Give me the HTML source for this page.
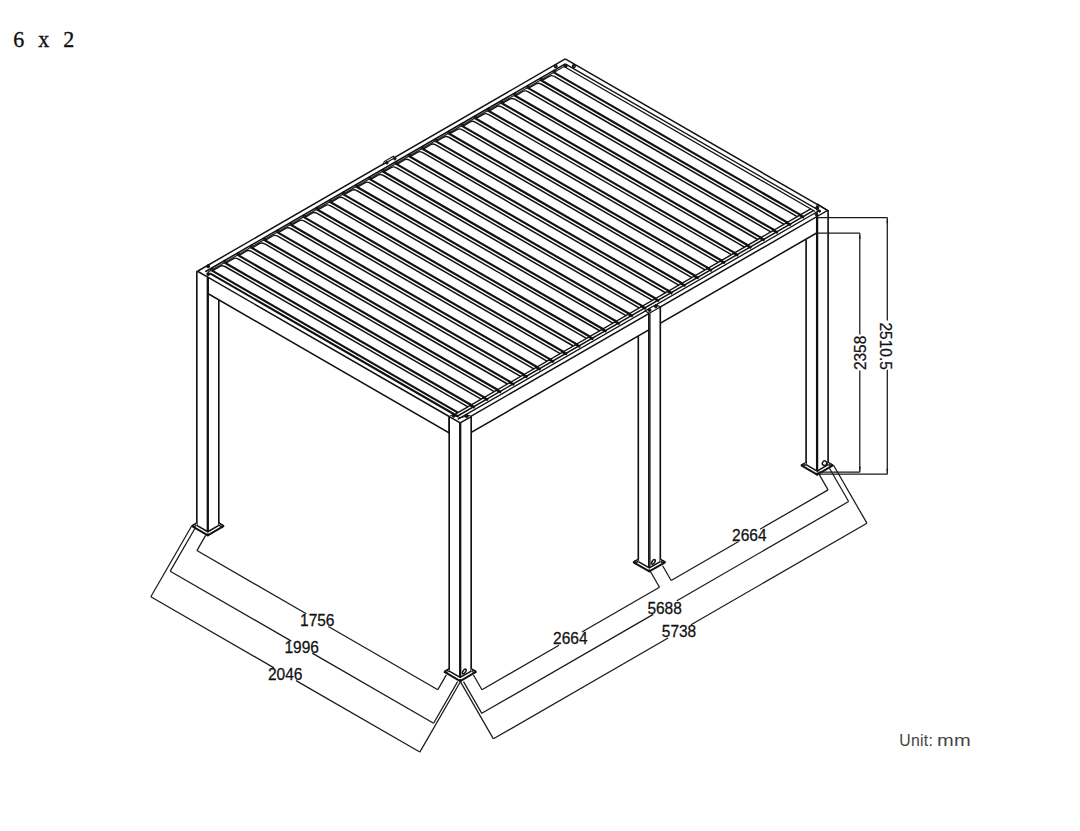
<!DOCTYPE html>
<html lang="en">
<head>
<meta charset="utf-8">
<title>6 x 2</title>
<style>
html,body{margin:0;padding:0;background:#fff;}
body{width:1080px;height:831px;position:relative;overflow:hidden;font-family:"Liberation Sans",sans-serif;}
svg{position:absolute;left:0;top:0;display:block;}
svg text{font-family:"Liberation Sans",sans-serif;fill:#111;stroke:#111;stroke-width:0.25px;}
.title{position:absolute;left:13.2px;top:25.3px;-webkit-text-stroke:0.35px #111;font-family:"Liberation Serif",serif;font-size:22px;line-height:30px;color:#111;word-spacing:8.5px;white-space:nowrap;transform:scaleY(1.045);transform-origin:0 21.9px;}
.unit{position:absolute;left:899.3px;top:731.1px;font-family:"Liberation Sans",sans-serif;font-size:15.8px;line-height:20px;color:#444;letter-spacing:0.25px;white-space:nowrap;}
.unit span{display:inline-block;transform:scaleX(1.27);transform-origin:0 50%;letter-spacing:0.2px;margin-left:-0.6px;}
</style>
</head>
<body>
<svg width="1080" height="831" viewBox="0 0 1080 831">
<rect x="0" y="0" width="1080" height="831" fill="#ffffff"/>
<polygon points="197.54,271.25 565.25,58.95 827.57,210.40 459.86,422.70" fill="#fff" stroke="none" stroke-width="0" stroke-linejoin="miter"/>
<line x1="552.87" y1="71.90" x2="800.47" y2="214.85" stroke="#111" stroke-width="2.2" stroke-linecap="butt"/>
<line x1="554.26" y1="76.40" x2="797.26" y2="216.70" stroke="#111" stroke-width="1.5" stroke-linecap="butt"/>
<path d="M554.43,76.50 Q551.48,75.00 549.67,76.05 L541.69,80.66" fill="none" stroke="#111" stroke-width="1.4"/>
<line x1="553.48" y1="70.45" x2="556.07" y2="71.95" stroke="#111" stroke-width="2.0" stroke-linecap="butt"/>
<line x1="798.74" y1="214.45" x2="804.10" y2="217.55" stroke="#111" stroke-width="2.6" stroke-linecap="butt"/>
<line x1="539.70" y1="79.51" x2="787.30" y2="222.45" stroke="#111" stroke-width="2.2" stroke-linecap="butt"/>
<line x1="541.08" y1="84.01" x2="784.09" y2="224.31" stroke="#111" stroke-width="1.5" stroke-linecap="butt"/>
<path d="M541.26,84.11 Q538.31,82.61 536.49,83.66 L528.52,88.26" fill="none" stroke="#111" stroke-width="1.4"/>
<line x1="540.30" y1="78.05" x2="542.90" y2="79.55" stroke="#111" stroke-width="2.0" stroke-linecap="butt"/>
<line x1="785.56" y1="222.06" x2="790.93" y2="225.15" stroke="#111" stroke-width="2.6" stroke-linecap="butt"/>
<line x1="526.53" y1="87.11" x2="774.12" y2="230.06" stroke="#111" stroke-width="2.2" stroke-linecap="butt"/>
<line x1="527.91" y1="91.61" x2="770.92" y2="231.91" stroke="#111" stroke-width="1.5" stroke-linecap="butt"/>
<path d="M528.08,91.71 Q525.14,90.21 523.32,91.26 L515.35,95.87" fill="none" stroke="#111" stroke-width="1.4"/>
<line x1="527.13" y1="85.66" x2="529.73" y2="87.16" stroke="#111" stroke-width="2.0" stroke-linecap="butt"/>
<line x1="772.39" y1="229.66" x2="777.76" y2="232.76" stroke="#111" stroke-width="2.6" stroke-linecap="butt"/>
<line x1="513.35" y1="94.72" x2="760.95" y2="237.66" stroke="#111" stroke-width="2.2" stroke-linecap="butt"/>
<line x1="514.74" y1="99.22" x2="757.75" y2="239.51" stroke="#111" stroke-width="1.5" stroke-linecap="butt"/>
<path d="M514.91,99.31 Q511.97,97.82 510.15,98.87 L502.17,103.47" fill="none" stroke="#111" stroke-width="1.4"/>
<line x1="513.96" y1="93.26" x2="516.56" y2="94.76" stroke="#111" stroke-width="2.0" stroke-linecap="butt"/>
<line x1="759.22" y1="237.26" x2="764.59" y2="240.36" stroke="#111" stroke-width="2.6" stroke-linecap="butt"/>
<line x1="500.18" y1="102.32" x2="747.78" y2="245.27" stroke="#111" stroke-width="2.2" stroke-linecap="butt"/>
<line x1="501.57" y1="106.82" x2="744.57" y2="247.12" stroke="#111" stroke-width="1.5" stroke-linecap="butt"/>
<path d="M501.74,106.92 Q498.80,105.42 496.98,106.47 L489.00,111.08" fill="none" stroke="#111" stroke-width="1.4"/>
<line x1="500.79" y1="100.87" x2="503.39" y2="102.37" stroke="#111" stroke-width="2.0" stroke-linecap="butt"/>
<line x1="746.05" y1="244.87" x2="751.42" y2="247.97" stroke="#111" stroke-width="2.6" stroke-linecap="butt"/>
<line x1="487.01" y1="109.93" x2="734.61" y2="252.88" stroke="#111" stroke-width="2.2" stroke-linecap="butt"/>
<line x1="488.40" y1="114.43" x2="731.40" y2="254.72" stroke="#111" stroke-width="1.5" stroke-linecap="butt"/>
<path d="M488.57,114.53 Q485.62,113.03 483.81,114.08 L475.83,118.68" fill="none" stroke="#111" stroke-width="1.4"/>
<line x1="487.62" y1="108.47" x2="490.21" y2="109.97" stroke="#111" stroke-width="2.0" stroke-linecap="butt"/>
<line x1="732.87" y1="252.48" x2="738.24" y2="255.57" stroke="#111" stroke-width="2.6" stroke-linecap="butt"/>
<line x1="473.84" y1="117.53" x2="721.43" y2="260.48" stroke="#111" stroke-width="2.2" stroke-linecap="butt"/>
<line x1="475.22" y1="122.03" x2="718.23" y2="262.33" stroke="#111" stroke-width="1.5" stroke-linecap="butt"/>
<path d="M475.40,122.13 Q472.45,120.63 470.63,121.68 L462.66,126.29" fill="none" stroke="#111" stroke-width="1.4"/>
<line x1="474.44" y1="116.08" x2="477.04" y2="117.58" stroke="#111" stroke-width="2.0" stroke-linecap="butt"/>
<line x1="719.70" y1="260.08" x2="725.07" y2="263.18" stroke="#111" stroke-width="2.6" stroke-linecap="butt"/>
<line x1="460.66" y1="125.14" x2="708.26" y2="268.08" stroke="#111" stroke-width="2.2" stroke-linecap="butt"/>
<line x1="462.05" y1="129.63" x2="705.06" y2="269.94" stroke="#111" stroke-width="1.5" stroke-linecap="butt"/>
<path d="M462.22,129.74 Q459.28,128.24 457.46,129.29 L449.48,133.89" fill="none" stroke="#111" stroke-width="1.4"/>
<line x1="461.27" y1="123.68" x2="463.87" y2="125.18" stroke="#111" stroke-width="2.0" stroke-linecap="butt"/>
<line x1="706.53" y1="267.69" x2="711.90" y2="270.78" stroke="#111" stroke-width="2.6" stroke-linecap="butt"/>
<line x1="447.49" y1="132.74" x2="695.09" y2="275.69" stroke="#111" stroke-width="2.2" stroke-linecap="butt"/>
<line x1="448.88" y1="137.24" x2="691.89" y2="277.54" stroke="#111" stroke-width="1.5" stroke-linecap="butt"/>
<path d="M449.05,137.34 Q446.11,135.84 444.29,136.89 L436.31,141.50" fill="none" stroke="#111" stroke-width="1.4"/>
<line x1="448.10" y1="131.29" x2="450.70" y2="132.79" stroke="#111" stroke-width="2.0" stroke-linecap="butt"/>
<line x1="693.36" y1="275.29" x2="698.73" y2="278.39" stroke="#111" stroke-width="2.6" stroke-linecap="butt"/>
<line x1="434.32" y1="140.35" x2="681.92" y2="283.30" stroke="#111" stroke-width="2.2" stroke-linecap="butt"/>
<line x1="435.71" y1="144.85" x2="678.71" y2="285.14" stroke="#111" stroke-width="1.5" stroke-linecap="butt"/>
<path d="M435.88,144.95 Q432.93,143.45 431.12,144.50 L423.14,149.10" fill="none" stroke="#111" stroke-width="1.4"/>
<line x1="434.93" y1="138.90" x2="437.52" y2="140.40" stroke="#111" stroke-width="2.0" stroke-linecap="butt"/>
<line x1="680.19" y1="282.89" x2="685.55" y2="286.00" stroke="#111" stroke-width="2.6" stroke-linecap="butt"/>
<line x1="421.15" y1="147.95" x2="668.74" y2="290.90" stroke="#111" stroke-width="2.2" stroke-linecap="butt"/>
<line x1="422.53" y1="152.45" x2="665.54" y2="292.75" stroke="#111" stroke-width="1.5" stroke-linecap="butt"/>
<path d="M422.71,152.55 Q419.76,151.05 417.94,152.10 L409.97,156.71" fill="none" stroke="#111" stroke-width="1.4"/>
<line x1="421.75" y1="146.50" x2="424.35" y2="148.00" stroke="#111" stroke-width="2.0" stroke-linecap="butt"/>
<line x1="667.01" y1="290.50" x2="672.38" y2="293.60" stroke="#111" stroke-width="2.6" stroke-linecap="butt"/>
<line x1="407.98" y1="155.56" x2="655.57" y2="298.50" stroke="#111" stroke-width="2.2" stroke-linecap="butt"/>
<line x1="409.36" y1="160.06" x2="652.37" y2="300.36" stroke="#111" stroke-width="1.5" stroke-linecap="butt"/>
<path d="M409.53,160.16 Q406.59,158.66 404.77,159.71 L396.80,164.31" fill="none" stroke="#111" stroke-width="1.4"/>
<line x1="408.58" y1="154.10" x2="411.18" y2="155.60" stroke="#111" stroke-width="2.0" stroke-linecap="butt"/>
<line x1="653.84" y1="298.11" x2="659.21" y2="301.20" stroke="#111" stroke-width="2.6" stroke-linecap="butt"/>
<line x1="394.80" y1="163.16" x2="642.40" y2="306.11" stroke="#111" stroke-width="2.2" stroke-linecap="butt"/>
<line x1="396.19" y1="167.66" x2="639.20" y2="307.96" stroke="#111" stroke-width="1.5" stroke-linecap="butt"/>
<path d="M396.36,167.76 Q393.42,166.26 391.60,167.31 L383.62,171.92" fill="none" stroke="#111" stroke-width="1.4"/>
<line x1="395.41" y1="161.71" x2="398.01" y2="163.21" stroke="#111" stroke-width="2.0" stroke-linecap="butt"/>
<line x1="640.67" y1="305.71" x2="646.04" y2="308.81" stroke="#111" stroke-width="2.6" stroke-linecap="butt"/>
<line x1="381.63" y1="170.77" x2="629.23" y2="313.72" stroke="#111" stroke-width="2.2" stroke-linecap="butt"/>
<line x1="383.02" y1="175.27" x2="626.02" y2="315.56" stroke="#111" stroke-width="1.5" stroke-linecap="butt"/>
<path d="M383.19,175.37 Q380.25,173.87 378.43,174.92 L370.45,179.52" fill="none" stroke="#111" stroke-width="1.4"/>
<line x1="382.24" y1="169.31" x2="384.84" y2="170.81" stroke="#111" stroke-width="2.0" stroke-linecap="butt"/>
<line x1="627.50" y1="313.31" x2="632.87" y2="316.41" stroke="#111" stroke-width="2.6" stroke-linecap="butt"/>
<line x1="368.46" y1="178.37" x2="616.06" y2="321.32" stroke="#111" stroke-width="2.2" stroke-linecap="butt"/>
<line x1="369.84" y1="182.87" x2="612.85" y2="323.17" stroke="#111" stroke-width="1.5" stroke-linecap="butt"/>
<path d="M370.02,182.97 Q367.07,181.47 365.25,182.52 L357.28,187.12" fill="none" stroke="#111" stroke-width="1.4"/>
<line x1="369.07" y1="176.92" x2="371.66" y2="178.42" stroke="#111" stroke-width="2.0" stroke-linecap="butt"/>
<line x1="614.32" y1="320.92" x2="619.69" y2="324.02" stroke="#111" stroke-width="2.6" stroke-linecap="butt"/>
<line x1="355.29" y1="185.98" x2="602.88" y2="328.93" stroke="#111" stroke-width="2.2" stroke-linecap="butt"/>
<line x1="356.67" y1="190.48" x2="599.68" y2="330.77" stroke="#111" stroke-width="1.5" stroke-linecap="butt"/>
<path d="M356.85,190.58 Q353.90,189.08 352.08,190.12 L344.11,194.73" fill="none" stroke="#111" stroke-width="1.4"/>
<line x1="355.89" y1="184.53" x2="358.49" y2="186.03" stroke="#111" stroke-width="2.0" stroke-linecap="butt"/>
<line x1="601.15" y1="328.53" x2="606.52" y2="331.62" stroke="#111" stroke-width="2.6" stroke-linecap="butt"/>
<line x1="342.11" y1="193.58" x2="589.71" y2="336.53" stroke="#111" stroke-width="2.2" stroke-linecap="butt"/>
<line x1="343.50" y1="198.08" x2="586.51" y2="338.38" stroke="#111" stroke-width="1.5" stroke-linecap="butt"/>
<path d="M343.67,198.18 Q340.73,196.68 338.91,197.73 L330.93,202.34" fill="none" stroke="#111" stroke-width="1.4"/>
<line x1="342.72" y1="192.13" x2="345.32" y2="193.63" stroke="#111" stroke-width="2.0" stroke-linecap="butt"/>
<line x1="587.98" y1="336.13" x2="593.35" y2="339.23" stroke="#111" stroke-width="2.6" stroke-linecap="butt"/>
<line x1="328.94" y1="201.19" x2="576.54" y2="344.13" stroke="#111" stroke-width="2.2" stroke-linecap="butt"/>
<line x1="330.33" y1="205.69" x2="573.33" y2="345.99" stroke="#111" stroke-width="1.5" stroke-linecap="butt"/>
<path d="M330.50,205.78 Q327.56,204.28 325.74,205.34 L317.76,209.94" fill="none" stroke="#111" stroke-width="1.4"/>
<line x1="329.55" y1="199.73" x2="332.15" y2="201.23" stroke="#111" stroke-width="2.0" stroke-linecap="butt"/>
<line x1="574.81" y1="343.74" x2="580.18" y2="346.83" stroke="#111" stroke-width="2.6" stroke-linecap="butt"/>
<line x1="315.77" y1="208.79" x2="563.37" y2="351.74" stroke="#111" stroke-width="2.2" stroke-linecap="butt"/>
<line x1="317.16" y1="213.29" x2="560.16" y2="353.59" stroke="#111" stroke-width="1.5" stroke-linecap="butt"/>
<path d="M317.33,213.39 Q314.38,211.89 312.57,212.94 L304.59,217.55" fill="none" stroke="#111" stroke-width="1.4"/>
<line x1="316.38" y1="207.34" x2="318.97" y2="208.84" stroke="#111" stroke-width="2.0" stroke-linecap="butt"/>
<line x1="561.63" y1="351.34" x2="567.00" y2="354.44" stroke="#111" stroke-width="2.6" stroke-linecap="butt"/>
<line x1="302.60" y1="216.40" x2="550.19" y2="359.35" stroke="#111" stroke-width="2.2" stroke-linecap="butt"/>
<line x1="303.98" y1="220.90" x2="546.99" y2="361.19" stroke="#111" stroke-width="1.5" stroke-linecap="butt"/>
<path d="M304.16,221.00 Q301.21,219.50 299.39,220.55 L291.42,225.15" fill="none" stroke="#111" stroke-width="1.4"/>
<line x1="303.20" y1="214.94" x2="305.80" y2="216.44" stroke="#111" stroke-width="2.0" stroke-linecap="butt"/>
<line x1="548.46" y1="358.94" x2="553.83" y2="362.04" stroke="#111" stroke-width="2.6" stroke-linecap="butt"/>
<line x1="289.43" y1="224.00" x2="537.02" y2="366.95" stroke="#111" stroke-width="2.2" stroke-linecap="butt"/>
<line x1="290.81" y1="228.50" x2="533.82" y2="368.80" stroke="#111" stroke-width="1.5" stroke-linecap="butt"/>
<path d="M290.98,228.60 Q288.04,227.10 286.22,228.15 L278.25,232.76" fill="none" stroke="#111" stroke-width="1.4"/>
<line x1="290.03" y1="222.55" x2="292.63" y2="224.05" stroke="#111" stroke-width="2.0" stroke-linecap="butt"/>
<line x1="535.29" y1="366.55" x2="540.66" y2="369.65" stroke="#111" stroke-width="2.6" stroke-linecap="butt"/>
<line x1="276.25" y1="231.61" x2="523.85" y2="374.56" stroke="#111" stroke-width="2.2" stroke-linecap="butt"/>
<line x1="277.64" y1="236.11" x2="520.65" y2="376.41" stroke="#111" stroke-width="1.5" stroke-linecap="butt"/>
<path d="M277.81,236.21 Q274.87,234.71 273.05,235.76 L265.07,240.36" fill="none" stroke="#111" stroke-width="1.4"/>
<line x1="276.86" y1="230.16" x2="279.46" y2="231.66" stroke="#111" stroke-width="2.0" stroke-linecap="butt"/>
<line x1="522.12" y1="374.16" x2="527.49" y2="377.25" stroke="#111" stroke-width="2.6" stroke-linecap="butt"/>
<line x1="263.08" y1="239.21" x2="510.68" y2="382.16" stroke="#111" stroke-width="2.2" stroke-linecap="butt"/>
<line x1="264.47" y1="243.71" x2="507.47" y2="384.01" stroke="#111" stroke-width="1.5" stroke-linecap="butt"/>
<path d="M264.64,243.81 Q261.70,242.31 259.88,243.36 L251.90,247.97" fill="none" stroke="#111" stroke-width="1.4"/>
<line x1="263.69" y1="237.76" x2="266.29" y2="239.26" stroke="#111" stroke-width="2.0" stroke-linecap="butt"/>
<line x1="508.95" y1="381.76" x2="514.32" y2="384.86" stroke="#111" stroke-width="2.6" stroke-linecap="butt"/>
<line x1="249.91" y1="246.82" x2="497.51" y2="389.76" stroke="#111" stroke-width="2.2" stroke-linecap="butt"/>
<line x1="251.29" y1="251.32" x2="494.30" y2="391.62" stroke="#111" stroke-width="1.5" stroke-linecap="butt"/>
<path d="M251.47,251.42 Q248.52,249.92 246.70,250.97 L238.73,255.57" fill="none" stroke="#111" stroke-width="1.4"/>
<line x1="250.52" y1="245.37" x2="253.11" y2="246.87" stroke="#111" stroke-width="2.0" stroke-linecap="butt"/>
<line x1="495.77" y1="389.37" x2="501.14" y2="392.46" stroke="#111" stroke-width="2.6" stroke-linecap="butt"/>
<line x1="236.74" y1="254.42" x2="484.33" y2="397.37" stroke="#111" stroke-width="2.2" stroke-linecap="butt"/>
<line x1="238.12" y1="258.92" x2="481.13" y2="399.22" stroke="#111" stroke-width="1.5" stroke-linecap="butt"/>
<path d="M238.30,259.02 Q235.35,257.52 233.53,258.57 L225.56,263.18" fill="none" stroke="#111" stroke-width="1.4"/>
<line x1="237.34" y1="252.97" x2="239.94" y2="254.47" stroke="#111" stroke-width="2.0" stroke-linecap="butt"/>
<line x1="482.60" y1="396.97" x2="487.97" y2="400.07" stroke="#111" stroke-width="2.6" stroke-linecap="butt"/>
<line x1="223.56" y1="262.02" x2="471.16" y2="404.98" stroke="#111" stroke-width="2.2" stroke-linecap="butt"/>
<line x1="224.95" y1="266.52" x2="467.96" y2="406.82" stroke="#111" stroke-width="1.5" stroke-linecap="butt"/>
<path d="M225.12,266.62 Q222.18,265.12 220.36,266.18 L212.38,270.78" fill="none" stroke="#111" stroke-width="1.4"/>
<line x1="224.17" y1="260.57" x2="226.77" y2="262.07" stroke="#111" stroke-width="2.0" stroke-linecap="butt"/>
<line x1="469.43" y1="404.57" x2="474.80" y2="407.67" stroke="#111" stroke-width="2.6" stroke-linecap="butt"/>
<line x1="210.39" y1="269.63" x2="457.99" y2="412.58" stroke="#111" stroke-width="2.2" stroke-linecap="butt"/>
<line x1="210.05" y1="273.33" x2="458.08" y2="416.53" stroke="#111" stroke-width="2.1" stroke-linecap="butt"/>
<line x1="211.00" y1="268.18" x2="213.60" y2="269.68" stroke="#111" stroke-width="2.0" stroke-linecap="butt"/>
<line x1="565.25" y1="58.95" x2="197.54" y2="271.25" stroke="#111" stroke-width="1.45" stroke-linecap="butt"/>
<line x1="565.25" y1="63.85" x2="205.25" y2="271.70" stroke="#111" stroke-width="1.6" stroke-linecap="butt"/>
<line x1="564.04" y1="66.55" x2="207.85" y2="272.20" stroke="#222" stroke-width="1.2" stroke-linecap="butt"/>
<line x1="565.25" y1="58.95" x2="827.57" y2="210.40" stroke="#111" stroke-width="1.45" stroke-linecap="butt"/>
<line x1="565.25" y1="63.85" x2="820.73" y2="211.35" stroke="#111" stroke-width="1.3" stroke-linecap="butt"/>
<line x1="564.39" y1="66.75" x2="815.19" y2="211.55" stroke="#111" stroke-width="1.3" stroke-linecap="butt"/>
<line x1="810.69" y1="208.95" x2="454.84" y2="414.40" stroke="#111" stroke-width="1.4" stroke-linecap="butt"/>
<line x1="813.46" y1="210.55" x2="457.61" y2="416.00" stroke="#111" stroke-width="1.5" stroke-linecap="butt"/>
<line x1="819.35" y1="210.55" x2="457.61" y2="419.40" stroke="#111" stroke-width="1.3" stroke-linecap="butt"/>
<polygon points="207.80,277.17 449.20,416.55 449.20,432.85 207.80,293.47" fill="#fff" stroke="#111" stroke-width="1.5" stroke-linejoin="miter"/>
<polygon points="471.20,416.15 817.10,216.45 817.10,232.75 471.20,432.45" fill="#fff" stroke="#111" stroke-width="1.5" stroke-linejoin="miter"/>
<polygon points="196.80,270.82 207.80,277.17 207.80,531.77 196.80,525.42" fill="#fff" stroke="none" stroke-width="0" stroke-linejoin="miter"/>
<polygon points="218.80,299.82 207.80,306.18 207.80,531.77 218.80,525.42" fill="#fff" stroke="none" stroke-width="0" stroke-linejoin="miter"/>
<line x1="196.80" y1="270.82" x2="196.80" y2="525.42" stroke="#111" stroke-width="1.65" stroke-linecap="butt"/>
<line x1="218.80" y1="299.82" x2="218.80" y2="525.42" stroke="#111" stroke-width="1.65" stroke-linecap="butt"/>
<line x1="207.80" y1="277.17" x2="207.80" y2="531.77" stroke="#111" stroke-width="2.3" stroke-linecap="butt"/>
<polygon points="191.60,525.92 196.80,522.92 196.80,525.42 207.80,531.77 218.80,525.42 218.80,522.92 224.00,525.92 207.80,535.28" fill="#fff" stroke="none" stroke-width="0" stroke-linejoin="miter"/>
<line x1="191.60" y1="525.92" x2="196.80" y2="522.92" stroke="#111" stroke-width="1.3" stroke-linecap="butt"/>
<line x1="224.00" y1="525.92" x2="218.80" y2="522.92" stroke="#111" stroke-width="1.3" stroke-linecap="butt"/>
<polyline points="191.60,525.92 207.80,535.28 224.00,525.92" fill="none" stroke="#111" stroke-width="2.0" stroke-linejoin="miter"/>
<polyline points="196.80,525.42 207.80,531.77 218.80,525.42" fill="none" stroke="#111" stroke-width="1.5" stroke-linejoin="miter"/>
<ellipse cx="194.60" cy="525.62" rx="1.5" ry="0.9" transform="rotate(0 194.60 525.62)" fill="none" stroke="#111" stroke-width="1.1"/>
<ellipse cx="221.00" cy="525.62" rx="1.5" ry="0.9" transform="rotate(0 221.00 525.62)" fill="none" stroke="#111" stroke-width="1.1"/>
<circle cx="207.80" cy="534.68" r="1.5" fill="#111"/>
<polygon points="449.20,416.55 460.20,422.90 460.20,677.50 449.20,671.15" fill="#fff" stroke="none" stroke-width="0" stroke-linejoin="miter"/>
<polygon points="471.20,416.55 460.20,422.90 460.20,677.50 471.20,671.15" fill="#fff" stroke="none" stroke-width="0" stroke-linejoin="miter"/>
<line x1="449.20" y1="416.55" x2="449.20" y2="671.15" stroke="#111" stroke-width="1.65" stroke-linecap="butt"/>
<line x1="471.20" y1="416.55" x2="471.20" y2="671.15" stroke="#111" stroke-width="1.65" stroke-linecap="butt"/>
<line x1="460.20" y1="422.90" x2="460.20" y2="677.50" stroke="#111" stroke-width="2.3" stroke-linecap="butt"/>
<polygon points="444.00,671.65 449.20,668.64 449.20,671.15 460.20,677.50 471.20,671.15 471.20,668.64 476.40,671.65 460.20,681.00" fill="#fff" stroke="none" stroke-width="0" stroke-linejoin="miter"/>
<line x1="444.00" y1="671.65" x2="449.20" y2="668.64" stroke="#111" stroke-width="1.3" stroke-linecap="butt"/>
<line x1="476.40" y1="671.65" x2="471.20" y2="668.64" stroke="#111" stroke-width="1.3" stroke-linecap="butt"/>
<polyline points="444.00,671.65 460.20,681.00 476.40,671.65" fill="none" stroke="#111" stroke-width="2.0" stroke-linejoin="miter"/>
<polyline points="449.20,671.15 460.20,677.50 471.20,671.15" fill="none" stroke="#111" stroke-width="1.5" stroke-linejoin="miter"/>
<ellipse cx="447.00" cy="671.35" rx="1.5" ry="0.9" transform="rotate(0 447.00 671.35)" fill="none" stroke="#111" stroke-width="1.1"/>
<ellipse cx="473.40" cy="671.35" rx="1.5" ry="0.9" transform="rotate(0 473.40 671.35)" fill="none" stroke="#111" stroke-width="1.1"/>
<circle cx="460.20" cy="680.40" r="1.5" fill="#111"/>
<polygon points="638.30,335.98 649.30,342.33 649.30,567.93 638.30,561.58" fill="#fff" stroke="none" stroke-width="0" stroke-linejoin="miter"/>
<polygon points="660.30,306.98 649.30,313.33 649.30,567.93 660.30,561.58" fill="#fff" stroke="none" stroke-width="0" stroke-linejoin="miter"/>
<line x1="638.30" y1="335.98" x2="638.30" y2="561.58" stroke="#111" stroke-width="1.65" stroke-linecap="butt"/>
<line x1="660.30" y1="306.98" x2="660.30" y2="561.58" stroke="#111" stroke-width="1.65" stroke-linecap="butt"/>
<line x1="648.70" y1="313.33" x2="648.70" y2="567.93" stroke="#111" stroke-width="1.35" stroke-linecap="butt"/>
<line x1="649.90" y1="313.33" x2="649.90" y2="567.93" stroke="#111" stroke-width="1.35" stroke-linecap="butt"/>
<polygon points="633.10,562.08 638.30,559.07 638.30,561.58 649.30,567.93 660.30,561.58 660.30,559.07 665.50,562.08 649.30,571.43" fill="#fff" stroke="none" stroke-width="0" stroke-linejoin="miter"/>
<line x1="633.10" y1="562.08" x2="638.30" y2="559.07" stroke="#111" stroke-width="1.3" stroke-linecap="butt"/>
<line x1="665.50" y1="562.08" x2="660.30" y2="559.07" stroke="#111" stroke-width="1.3" stroke-linecap="butt"/>
<polyline points="633.10,562.08 649.30,571.43 665.50,562.08" fill="none" stroke="#111" stroke-width="2.0" stroke-linejoin="miter"/>
<polyline points="638.30,561.58 649.30,567.93 660.30,561.58" fill="none" stroke="#111" stroke-width="1.5" stroke-linejoin="miter"/>
<ellipse cx="636.10" cy="561.78" rx="1.5" ry="0.9" transform="rotate(0 636.10 561.78)" fill="none" stroke="#111" stroke-width="1.1"/>
<ellipse cx="662.50" cy="561.78" rx="1.5" ry="0.9" transform="rotate(0 662.50 561.78)" fill="none" stroke="#111" stroke-width="1.1"/>
<circle cx="649.30" cy="570.83" r="1.5" fill="#111"/>
<polygon points="806.10,239.10 817.10,245.45 817.10,471.05 806.10,464.70" fill="#fff" stroke="none" stroke-width="0" stroke-linejoin="miter"/>
<polygon points="828.10,210.10 817.10,216.45 817.10,471.05 828.10,464.70" fill="#fff" stroke="none" stroke-width="0" stroke-linejoin="miter"/>
<line x1="806.10" y1="239.10" x2="806.10" y2="464.70" stroke="#111" stroke-width="1.65" stroke-linecap="butt"/>
<line x1="828.10" y1="210.10" x2="828.10" y2="464.70" stroke="#111" stroke-width="1.65" stroke-linecap="butt"/>
<line x1="817.10" y1="216.45" x2="817.10" y2="471.05" stroke="#111" stroke-width="2.3" stroke-linecap="butt"/>
<polygon points="800.90,465.20 806.10,462.19 806.10,464.70 817.10,471.05 828.10,464.70 828.10,462.19 833.30,465.20 817.10,474.55" fill="#fff" stroke="none" stroke-width="0" stroke-linejoin="miter"/>
<line x1="800.90" y1="465.20" x2="806.10" y2="462.19" stroke="#111" stroke-width="1.3" stroke-linecap="butt"/>
<line x1="833.30" y1="465.20" x2="828.10" y2="462.19" stroke="#111" stroke-width="1.3" stroke-linecap="butt"/>
<polyline points="800.90,465.20 817.10,474.55 833.30,465.20" fill="none" stroke="#111" stroke-width="2.0" stroke-linejoin="miter"/>
<polyline points="806.10,464.70 817.10,471.05 828.10,464.70" fill="none" stroke="#111" stroke-width="1.5" stroke-linejoin="miter"/>
<ellipse cx="803.90" cy="464.90" rx="1.5" ry="0.9" transform="rotate(0 803.90 464.90)" fill="none" stroke="#111" stroke-width="1.1"/>
<ellipse cx="830.30" cy="464.90" rx="1.5" ry="0.9" transform="rotate(0 830.30 464.90)" fill="none" stroke="#111" stroke-width="1.1"/>
<circle cx="817.10" cy="473.95" r="1.5" fill="#111"/>
<line x1="197.54" y1="271.25" x2="207.80" y2="277.17" stroke="#111" stroke-width="1.5" stroke-linecap="butt"/>
<circle cx="208.10" cy="266.30" r="1.5" fill="#111" stroke="#111" stroke-width="1.0"/>
<circle cx="208.30" cy="274.00" r="1.5" fill="#111" stroke="#111" stroke-width="1.0"/>
<line x1="449.20" y1="416.55" x2="460.20" y2="422.90" stroke="#111" stroke-width="1.5" stroke-linecap="butt"/>
<line x1="460.20" y1="422.90" x2="471.20" y2="416.55" stroke="#111" stroke-width="1.5" stroke-linecap="butt"/>
<polyline points="449.20,416.55 452.20,414.81 460.55,417.70 469.20,415.39 471.20,416.55" fill="none" stroke="#111" stroke-width="1.0" stroke-linejoin="miter"/>
<circle cx="453.60" cy="415.70" r="1.6" fill="#111" stroke="#111" stroke-width="1.0"/>
<circle cx="466.60" cy="416.00" r="1.6" fill="#111" stroke="#111" stroke-width="1.0"/>
<polygon points="649.30,313.33 660.30,306.98 656.10,304.55 645.10,310.90" fill="#fff" stroke="#111" stroke-width="1.1" stroke-linejoin="miter"/>
<circle cx="649.50" cy="310.13" r="1.4" fill="#111" stroke="#111" stroke-width="1.0"/>
<circle cx="655.80" cy="306.43" r="1.4" fill="#111" stroke="#111" stroke-width="1.0"/>
<polyline points="817.10,216.45 827.57,210.40 817.10,203.75" fill="none" stroke="#111" stroke-width="1.25" stroke-linejoin="miter"/>
<line x1="817.10" y1="204.75" x2="817.10" y2="216.45" stroke="#111" stroke-width="1.0" stroke-linecap="butt"/>
<circle cx="817.30" cy="207.65" r="1.6" fill="#111" stroke="#111" stroke-width="1.0"/>
<circle cx="819.50" cy="211.25" r="1.0" fill="#111" stroke="#111" stroke-width="1.0"/>
<circle cx="816.50" cy="214.45" r="1.3" fill="#111" stroke="#111" stroke-width="1.0"/>
<circle cx="555.65" cy="66.15" r="1.4" fill="#555" stroke="#111" stroke-width="1.3"/>
<circle cx="573.85" cy="66.15" r="1.4" fill="#555" stroke="#111" stroke-width="1.3"/>
<circle cx="565.65" cy="65.95" r="1.5" fill="#111" stroke="#111" stroke-width="1.0"/>
<polygon points="383.40,164.24 384.20,161.58 393.40,156.27 394.40,157.89" fill="#fff" stroke="#111" stroke-width="1.1" stroke-linejoin="miter"/>
<circle cx="386.90" cy="162.70" r="1.3" fill="#222" stroke="#111" stroke-width="1.0"/>
<circle cx="394.80" cy="158.60" r="1.3" fill="#222" stroke="#111" stroke-width="1.0"/>
<ellipse cx="464.30" cy="671.50" rx="2.7" ry="1.3" transform="rotate(-58 464.30 671.50)" fill="none" stroke="#111" stroke-width="1.5"/>
<ellipse cx="653.40" cy="561.93" rx="2.7" ry="1.3" transform="rotate(-58 653.40 561.93)" fill="none" stroke="#111" stroke-width="1.5"/>
<ellipse cx="824.50" cy="463.20" rx="2.3" ry="2.1" transform="rotate(-58 824.50 463.20)" fill="none" stroke="#111" stroke-width="1.4"/>
<line x1="817.10" y1="233.20" x2="859.80" y2="233.20" stroke="#1a1a1a" stroke-width="1.25" stroke-linecap="butt"/>
<line x1="859.80" y1="233.20" x2="859.80" y2="334.60" stroke="#1a1a1a" stroke-width="1.25" stroke-linecap="butt"/>
<line x1="859.80" y1="370.60" x2="859.80" y2="472.20" stroke="#1a1a1a" stroke-width="1.25" stroke-linecap="butt"/>
<line x1="817.50" y1="472.20" x2="859.80" y2="472.20" stroke="#1a1a1a" stroke-width="1.25" stroke-linecap="butt"/>
<line x1="817.10" y1="217.60" x2="887.30" y2="217.60" stroke="#1a1a1a" stroke-width="1.25" stroke-linecap="butt"/>
<line x1="887.30" y1="217.60" x2="887.30" y2="320.60" stroke="#1a1a1a" stroke-width="1.25" stroke-linecap="butt"/>
<line x1="887.30" y1="369.80" x2="887.30" y2="474.20" stroke="#1a1a1a" stroke-width="1.25" stroke-linecap="butt"/>
<line x1="817.50" y1="474.20" x2="887.30" y2="474.20" stroke="#1a1a1a" stroke-width="1.25" stroke-linecap="butt"/>
<polygon points="859.80,233.20 858.90,238.70 860.70,238.70" fill="#1a1a1a"/>
<polygon points="859.80,472.20 858.90,466.70 860.70,466.70" fill="#1a1a1a"/>
<polygon points="887.30,217.60 886.40,223.10 888.20,223.10" fill="#1a1a1a"/>
<polygon points="887.30,474.20 886.40,468.70 888.20,468.70" fill="#1a1a1a"/>
<line x1="205.65" y1="535.40" x2="196.89" y2="550.58" stroke="#1a1a1a" stroke-width="1.25" stroke-linecap="butt"/>
<line x1="446.35" y1="674.90" x2="437.82" y2="689.67" stroke="#1a1a1a" stroke-width="1.25" stroke-linecap="butt"/>
<line x1="196.89" y1="550.58" x2="306.30" y2="613.74" stroke="#1a1a1a" stroke-width="1.25" stroke-linecap="butt"/>
<line x1="328.40" y1="626.50" x2="437.82" y2="689.67" stroke="#1a1a1a" stroke-width="1.25" stroke-linecap="butt"/>
<line x1="195.03" y1="528.20" x2="170.22" y2="571.17" stroke="#1a1a1a" stroke-width="1.25" stroke-linecap="butt"/>
<line x1="457.61" y1="681.60" x2="433.58" y2="723.23" stroke="#1a1a1a" stroke-width="1.25" stroke-linecap="butt"/>
<line x1="170.22" y1="571.17" x2="291.40" y2="641.14" stroke="#1a1a1a" stroke-width="1.25" stroke-linecap="butt"/>
<line x1="312.20" y1="653.15" x2="433.58" y2="723.23" stroke="#1a1a1a" stroke-width="1.25" stroke-linecap="butt"/>
<line x1="191.51" y1="526.30" x2="150.82" y2="596.77" stroke="#1a1a1a" stroke-width="1.25" stroke-linecap="butt"/>
<line x1="460.84" y1="681.00" x2="419.81" y2="752.08" stroke="#1a1a1a" stroke-width="1.25" stroke-linecap="butt"/>
<line x1="150.82" y1="596.77" x2="274.00" y2="667.89" stroke="#1a1a1a" stroke-width="1.25" stroke-linecap="butt"/>
<line x1="296.00" y1="680.60" x2="419.81" y2="752.08" stroke="#1a1a1a" stroke-width="1.25" stroke-linecap="butt"/>
<line x1="473.43" y1="675.00" x2="481.94" y2="689.75" stroke="#1a1a1a" stroke-width="1.25" stroke-linecap="butt"/>
<line x1="650.27" y1="571.30" x2="659.48" y2="587.25" stroke="#1a1a1a" stroke-width="1.25" stroke-linecap="butt"/>
<line x1="481.94" y1="689.75" x2="559.00" y2="645.26" stroke="#1a1a1a" stroke-width="1.25" stroke-linecap="butt"/>
<line x1="581.90" y1="632.04" x2="659.48" y2="587.25" stroke="#1a1a1a" stroke-width="1.25" stroke-linecap="butt"/>
<line x1="662.62" y1="565.70" x2="671.17" y2="580.50" stroke="#1a1a1a" stroke-width="1.25" stroke-linecap="butt"/>
<line x1="819.14" y1="474.40" x2="828.09" y2="489.90" stroke="#1a1a1a" stroke-width="1.25" stroke-linecap="butt"/>
<line x1="671.17" y1="580.50" x2="738.60" y2="541.57" stroke="#1a1a1a" stroke-width="1.25" stroke-linecap="butt"/>
<line x1="760.00" y1="529.21" x2="828.09" y2="489.90" stroke="#1a1a1a" stroke-width="1.25" stroke-linecap="butt"/>
<line x1="463.50" y1="681.60" x2="481.81" y2="713.33" stroke="#1a1a1a" stroke-width="1.25" stroke-linecap="butt"/>
<line x1="828.84" y1="467.20" x2="848.66" y2="501.52" stroke="#1a1a1a" stroke-width="1.25" stroke-linecap="butt"/>
<line x1="481.81" y1="713.33" x2="653.20" y2="614.37" stroke="#1a1a1a" stroke-width="1.25" stroke-linecap="butt"/>
<line x1="676.90" y1="600.69" x2="848.66" y2="501.52" stroke="#1a1a1a" stroke-width="1.25" stroke-linecap="butt"/>
<line x1="460.38" y1="681.60" x2="493.42" y2="738.83" stroke="#1a1a1a" stroke-width="1.25" stroke-linecap="butt"/>
<line x1="833.52" y1="465.30" x2="866.93" y2="523.18" stroke="#1a1a1a" stroke-width="1.25" stroke-linecap="butt"/>
<line x1="493.42" y1="738.83" x2="668.10" y2="637.97" stroke="#1a1a1a" stroke-width="1.25" stroke-linecap="butt"/>
<line x1="691.00" y1="624.75" x2="866.93" y2="523.18" stroke="#1a1a1a" stroke-width="1.25" stroke-linecap="butt"/>
<text x="0" y="0" text-anchor="middle" font-size="15.5" transform="translate(317.25 625.80) scale(1 1.03)">1756</text>
<text x="0" y="0" text-anchor="middle" font-size="15.5" transform="translate(301.65 653.10) scale(1 1.03)">1996</text>
<text x="0" y="0" text-anchor="middle" font-size="15.5" transform="translate(285.20 680.00) scale(1 1.03)">2046</text>
<text x="0" y="0" text-anchor="middle" font-size="15.5" transform="translate(570.30 643.90) scale(1 1.03)">2664</text>
<text x="0" y="0" text-anchor="middle" font-size="15.5" transform="translate(664.60 614.00) scale(1 1.03)">5688</text>
<text x="0" y="0" text-anchor="middle" font-size="15.5" transform="translate(679.00 636.70) scale(1 1.03)">5738</text>
<text x="0" y="0" text-anchor="middle" font-size="15.5" transform="translate(749.30 540.80) scale(1 1.03)">2664</text>
<text x="0" y="0" text-anchor="middle" font-size="15.5" transform="translate(865.50 352.90) rotate(-90) scale(1 1.03)">2358</text>
<text x="0" y="0" text-anchor="middle" font-size="15.5" transform="translate(880.00 346.15) rotate(90) scale(1 1.03)">2510.5</text>
</svg>
<div class="title">6 x 2</div>
<div class="unit">Unit: <span>mm</span></div>
</body>
</html>
